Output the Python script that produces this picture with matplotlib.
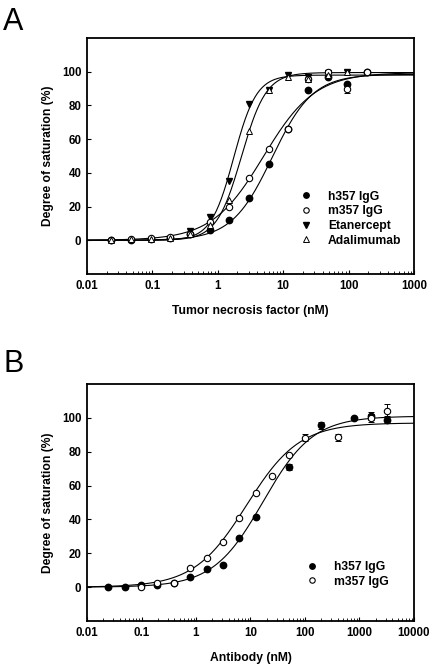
import numpy as np
import matplotlib
matplotlib.use("Agg")
import matplotlib.pyplot as plt
from matplotlib.ticker import LogLocator, NullFormatter

plt.rcParams['font.family'] = ['Liberation Sans', 'DejaVu Sans']

# ---------------- Panel A data ----------------
concA = [0.0234, 0.0469, 0.0938, 0.1875, 0.375, 0.75, 1.5, 3, 6, 12, 24, 48, 96, 192]
h357_A = [0, 0, 1, 1.5, 4, 6, 12, 25, 45, 66, 89, 97, 93, 100]
m357_A = [0, 0.5, 1.5, 2, 4, 11, 20, 37, 54, 66, 95.5, 100, 89.5, 100]
m357_A_err = [0, 0, 0, 0, 0, 0, 0, 0, 0, 0, 1.5, 0, 2, 0]
concA_eta = [0.375, 0.75, 1.5, 3, 6, 12, 24, 48, 96]
eta_A = [5.5, 14, 35, 81, 89, 98, 97, 99, 100]
concA_ada = [0.0234, 0.0469, 0.0938, 0.1875, 0.375, 0.75, 1.5, 3, 6, 12, 24, 48, 96]
ada_A = [0, 0.5, 1, 1.5, 3.5, 9, 24, 65, 89, 97, 95.5, 98, 100]

# fit parameters (bottom, top, EC50, Hill)
fitA = {
    'h357': (0, 98.5, 6.8, 1.4),
    'm357': (0, 99.5, 5.0, 1.1),
    'eta': (0, 98.0, 1.75, 2.5),
    'ada': (0, 99.5, 2.3, 2.3),
}

# ---------------- Panel B data ----------------
concB = [3200 / 2 ** k for k in range(17, -1, -1)]
h357_B = [0, 0, 1, 1.5, 2.5, 6, 10.5, 12.8, 29, 41.5, np.nan, 71, np.nan, 95.5, np.nan, 100, 101, 99]
h357_B_err = [0, 0, 0, 0, 0, 0, 0, 0, 0, 0, 0, 2, 0, 2, 0, 0, 2.5, 2]
m357_B = [np.nan, np.nan, 0, 2.5, 2.7, 11.3, 17.5, 26.8, 40.6, 55.9, 65.4, 78, 88.2, np.nan, 88.5, np.nan, 100, 104.3]
m357_B_err = [0, 0, 0, 0, 0, 0, 0, 0, 0, 0, 0, 0, 2, 0, 2, 0, 2.5, 4]

fitB = {
    'h357': (0, 101.0, 17.0, 0.95),
    'm357': (0, 97.0, 8.5, 0.9),
}


def logistic(x, p):
    b, t, ec, h = p
    return b + (t - b) / (1 + (ec / x) ** h)


W, H = 432, 665
fig = plt.figure(figsize=(W / 100, H / 100), dpi=100)

axA = fig.add_axes([87 / W, 1 - 274 / H, 327 / W, 236 / H])
axB = fig.add_axes([87 / W, 1 - 621 / H, 327 / W, 237 / H])

ms = 4.6
lw_fit = 0.8


def style(ax, xmax):
    ax.set_xscale('log')
    ax.set_xlim(0.01, xmax)
    ax.set_ylim(-20, 120)
    ax.set_yticks([0, 20, 40, 60, 80, 100])
    ax.tick_params(axis='both', which='both', direction='in', labelsize=8.3)
    ax.tick_params(axis='both', which='major', length=3, width=0.8, pad=4)
    ax.tick_params(axis='x', which='minor', length=2, width=0.6)
    ax.xaxis.set_minor_locator(LogLocator(base=10, subs=np.arange(2, 10), numticks=20))
    ax.xaxis.set_minor_formatter(NullFormatter())
    for lab in ax.get_xticklabels() + ax.get_yticklabels():
        lab.set_fontweight('bold')
    for s in ax.spines.values():
        s.set_linewidth(1.3)


legend_kw = dict(frameon=False, prop={'weight': 'bold', 'size': 8.7}, handletextpad=1.3,
                 labelspacing=0.22, handlelength=1.0, markerscale=0.85)

# ---- Panel A ----
xs = np.logspace(-2, 3, 400)
for key in ['h357', 'm357', 'eta', 'ada']:
    axA.plot(xs, logistic(xs, fitA[key]), color='black', lw=lw_fit, zorder=2)

axA.errorbar(concA, m357_A, yerr=m357_A_err, fmt='none', ecolor='black', elinewidth=0.7, capsize=2, capthick=0.7, zorder=3)
axA.plot(concA, h357_A, 'o', color='black', ms=ms, zorder=4, label='h357 IgG')
axA.plot(concA, m357_A, 'o', mfc='white', mec='black', mew=0.8, ms=ms, zorder=5, label='m357 IgG')
axA.plot(concA_eta, eta_A, 'v', color='black', ms=ms, zorder=4, label='Etanercept')
axA.plot(concA_ada, ada_A, '^', mfc='white', mec='black', mew=0.7, ms=ms, zorder=6, label='Adalimumab')

style(axA, 1000)
axA.set_xticks([0.01, 0.1, 1, 10, 100, 1000])
axA.set_xticklabels(['0.01', '0.1', '1', '10', '100', '1000'], fontweight='bold')
axA.set_xlabel('Tumor necrosis factor (nM)', fontsize=8.7, fontweight='bold', labelpad=10)
axA.set_ylabel('Degree of saturation (%)', fontsize=8.7, fontweight='bold', labelpad=6)
axA.legend(loc='lower right', bbox_to_anchor=(0.995, 0.07), **legend_kw)

# ---- Panel B ----
xs = np.logspace(-2, 4, 400)
for key in ['h357', 'm357']:
    axB.plot(xs, logistic(xs, fitB[key]), color='black', lw=lw_fit, zorder=2)

axB.errorbar(concB, h357_B, yerr=h357_B_err, fmt='none', ecolor='black', elinewidth=0.7, capsize=2, capthick=0.7, zorder=3)
axB.errorbar(concB, m357_B, yerr=m357_B_err, fmt='none', ecolor='black', elinewidth=0.7, capsize=2, capthick=0.7, zorder=3)
axB.plot(concB, h357_B, 'o', color='black', ms=ms, zorder=4, label='h357 IgG')
axB.plot(concB, m357_B, 'o', mfc='white', mec='black', mew=0.8, ms=ms, zorder=5, label='m357 IgG')

style(axB, 10000)
axB.set_xticks([0.01, 0.1, 1, 10, 100, 1000, 10000])
axB.set_xticklabels(['0.01', '0.1', '1', '10', '100', '1000', '10000'], fontweight='bold')
axB.set_xlabel('Antibody (nM)', fontsize=8.7, fontweight='bold', labelpad=10)
axB.set_ylabel('Degree of saturation (%)', fontsize=8.7, fontweight='bold', labelpad=6)
axB.legend(loc='lower right', bbox_to_anchor=(0.955, 0.095), **legend_kw)

fig.text(3 / W, 1 - 30 / H, 'A', fontsize=22)
fig.text(3 / W, 1 - 372 / H, 'B', fontsize=22)

fig.savefig('out.png', dpi=100)
